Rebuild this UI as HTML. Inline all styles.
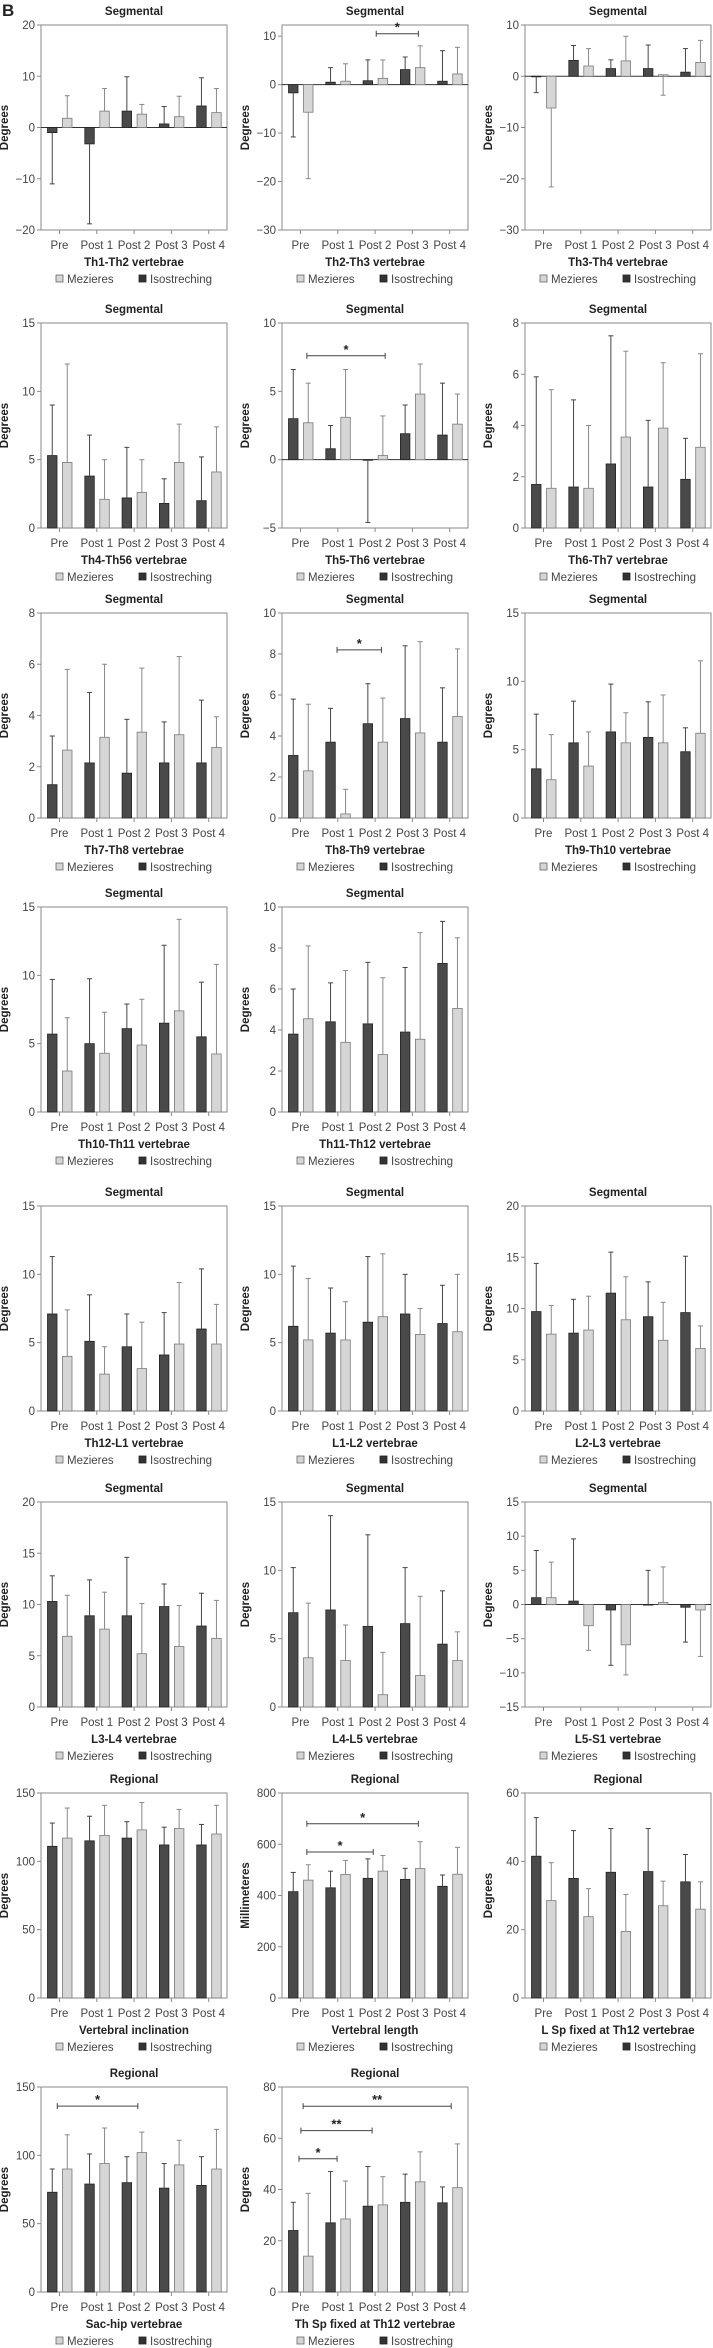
<!DOCTYPE html>
<html><head><meta charset="utf-8">
<style>
html,body{margin:0;padding:0;background:#fff;}
svg{display:block;font-family:"Liberation Sans",sans-serif;}
</style></head>
<body>
<svg id="fig" width="713" height="2348" viewBox="0 0 713 2348" xmlns="http://www.w3.org/2000/svg">
<text x="2" y="16" font-size="17" font-weight="bold" fill="#222">B</text>
</svg>
<script>
const categories = ["Pre","Post 1","Post 2","Post 3","Post 4"];
const titles = ["Segmental","Segmental","Segmental","Segmental","Segmental","Segmental","Segmental","Segmental","Segmental","Segmental","Segmental","Segmental","Segmental","Segmental","Segmental","Segmental","Segmental","Regional","Regional","Regional","Regional","Regional"];
const xLabels = ["Th1-Th2 vertebrae","Th2-Th3 vertebrae","Th3-Th4 vertebrae","Th4-Th56 vertebrae","Th5-Th6 vertebrae","Th6-Th7 vertebrae","Th7-Th8 vertebrae","Th8-Th9 vertebrae","Th9-Th10 vertebrae","Th10-Th11 vertebrae","Th11-Th12 vertebrae","Th12-L1 vertebrae","L1-L2 vertebrae","L2-L3 vertebrae","L3-L4 vertebrae","L4-L5 vertebrae","L5-S1 vertebrae","Vertebral inclination","Vertebral length","L Sp fixed at Th12 vertebrae","Sac-hip vertebrae","Th Sp fixed at Th12 vertebrae"];
const yLabels = ["Degrees","Degrees","Degrees","Degrees","Degrees","Degrees","Degrees","Degrees","Degrees","Degrees","Degrees","Degrees","Degrees","Degrees","Degrees","Degrees","Degrees","Degrees","Millimeteres","Degrees","Degrees","Degrees"];
const yMin = [-20,-30,-30,0,-5,0,0,0,0,0,0,0,0,0,0,0,-15,0,0,0,0,0];
const yMax = [20,12.3,10,15,10,8,8,10,15,15,10,15,15,20,20,15,15,150,800,60,150,80];
const yStep = [10,10,10,5,5,2,2,2,5,5,2,5,5,5,5,5,5,50,200,20,50,20];
const isoMeans = [
[-1,-3.2,3.2,0.7,4.2],[-1.7,0.5,0.8,3.1,0.7],[-0.1,3.1,1.5,1.5,0.8],
[5.3,3.8,2.2,1.8,2.0],[3.0,0.8,0,1.9,1.8],[1.7,1.6,2.5,1.6,1.9],
[1.3,2.15,1.75,2.15,2.15],[3.05,3.7,4.6,4.85,3.7],[3.6,5.5,6.3,5.9,4.85],
[5.7,5.0,6.1,6.5,5.5],[3.8,4.4,4.3,3.9,7.25],
[7.1,5.1,4.7,4.1,6.0],[6.2,5.7,6.5,7.1,6.4],[9.7,7.6,11.5,9.2,9.6],
[10.3,8.9,8.9,9.8,7.9],[6.9,7.1,5.9,6.1,4.6],[1.0,0.5,-0.8,0,-0.4],
[111,115,117,112,112],[415,430,467,463,436],[41.5,35,36.8,37,34],
[73,79,80,76,78],[24,27,33.5,35,34.8]];
const isoErrEnds = [
[-11,-18.8,9.9,4.1,9.7],[-10.8,3.5,5.1,5.7,7.0],[-3.2,6.0,3.2,6.1,5.4],
[9.0,6.8,5.9,3.6,5.2],[6.6,2.5,-4.6,4.0,5.6],[5.9,5.0,7.5,4.2,3.5],
[3.2,4.9,3.85,3.75,4.6],[5.8,5.35,6.55,8.4,6.35],[7.6,8.55,9.8,8.5,6.6],
[9.7,9.75,7.9,12.2,9.5],[6.0,6.3,7.3,7.05,9.3],
[11.3,8.5,7.1,7.2,10.4],[10.6,9.0,11.3,10.0,9.2],[14.4,10.9,15.5,12.6,15.1],
[12.8,12.4,14.6,12.0,11.1],[10.2,14.0,12.6,10.2,8.5],[7.9,9.6,-8.9,5.0,-5.5],
[128,133,129,125,127],[490,495,543,506,480],[52.8,49,49.6,49.6,42],
[90,101,99,94,99],[35,47,49,46,41]];
const mezMeans = [
[1.8,3.2,2.6,2.1,2.9],[-5.7,0.7,1.3,3.5,2.2],[-6.2,2.0,3.0,0.3,2.7],
[4.8,2.1,2.6,4.8,4.1],[2.7,3.1,0.3,4.8,2.6],[1.55,1.55,3.55,3.9,3.15],
[2.65,3.15,3.35,3.25,2.75],[2.3,0.2,3.7,4.15,4.95],[2.8,3.8,5.5,5.5,6.2],
[3.0,4.3,4.9,7.4,4.25],[4.55,3.4,2.8,3.55,5.05],
[4.0,2.7,3.1,4.9,4.9],[5.2,5.2,6.9,5.6,5.8],[7.5,7.9,8.9,6.9,6.1],
[6.9,7.6,5.2,5.9,6.7],[3.6,3.4,0.9,2.3,3.4],[1.0,-3.1,-5.9,0.3,-0.8],
[117,119,123,124,120],[460,482,495,505,483],[28.5,23.8,19.5,27,26],
[90,94,102,93,90],[14,28.5,34,43,40.7]];
const mezErrEnds = [
[6.2,7.6,4.5,6.1,7.6],[-19.4,4.3,5.1,8.0,7.7],[-21.6,5.4,7.8,-3.7,7.0],
[12.0,5.0,5.0,7.6,7.4],[5.6,6.6,3.2,7.0,4.8],[5.4,4.0,6.9,6.45,6.8],
[5.8,6.0,5.85,6.3,3.95],[5.55,1.4,5.85,8.6,8.25],[6.1,6.3,7.7,9.0,11.5],
[6.9,7.3,8.25,14.1,10.8],[8.1,6.9,6.55,8.75,8.5],
[7.4,4.7,6.5,9.4,7.8],[9.7,8.0,11.5,7.5,10.0],[10.3,11.2,13.1,10.6,8.3],
[10.9,11.2,10.1,9.9,10.4],[7.6,6.0,4.0,8.1,5.5],[6.2,-6.7,-10.3,5.5,-7.6],
[139,141,143,138,141],[520,537,556,610,588],[39.6,32,30.3,34.2,34],
[115,120,117,111,119],[38.5,43.3,45,54.7,57.8]];
// significance brackets: [chartIndex, fromCategoryPos, toCategoryPos, yValue, label]
const brackets = [
[1,2.03,3.16,10.5,"*"],
[4,0.17,2.27,7.6,"*"],
[7,0.98,2.17,8.2,"*"],
[18,0.17,3.16,680,"*"],
[18,0.17,1.95,570,"*"],
[20,-0.06,2.1,136,"*"],
[21,-0.04,0.98,52,"*"],
[21,0.01,1.92,63,"**"],
[21,0.07,4.04,72.5,"**"]];
const rowTops = [25,323,613,907,1206,1502,1793,2087];
const colLefts = [41,282,525];
const chartCells = [[0,0],[0,1],[0,2],[1,0],[1,1],[1,2],[2,0],[2,1],[2,2],[3,0],[3,1],[4,0],[4,1],[4,2],[5,0],[5,1],[5,2],[6,0],[6,1],[6,2],[7,0],[7,1]];

const NS = "http://www.w3.org/2000/svg";
const svg = document.getElementById("fig");
const PW = 186, PH = 205;
function mk(tag, attrs, parent){
  const e = document.createElementNS(NS, tag);
  for (const k in attrs) e.setAttribute(k, attrs[k]);
  parent.appendChild(e);
  return e;
}
function txt(parent, x, y, s, size, anchor, weight, fill){
  const t = mk("text", {x:x, y:y, "font-size":size, "text-anchor":anchor, "font-weight":weight, fill:fill}, parent);
  t.textContent = s;
  return t;
}

for (let c = 0; c < titles.length; c++){
  const L = colLefts[chartCells[c][1]], T = rowTops[chartCells[c][0]];
  const B = T + PH, R = L + PW;
  const lo = yMin[c], hi = yMax[c];
  const yS = v => B - (v - lo) / (hi - lo) * PH;
  const xCat = p => L + 18.5 + 37.3 * p;
  const g = mk("g", {}, svg);
  
  

  const title = txt(g, L + PW/2, T - 10, titles[c], 11.5, "middle", "bold", "#222");
  
  

  // frame
  const frame = mk("rect", {x:L, y:T, width:PW, height:PH, fill:"none", stroke:"#8a8a8a", "stroke-width":1}, g);
  
  

  // y ticks
  for (let v = lo; v <= hi + 1e-9; v += yStep[c]){
    const y = yS(v);
    mk("line", {x1:L-4, x2:L, y1:y, y2:y, stroke:"#8a8a8a"}, g);
    const lbl = v < 0 ? "\u2212" + Math.abs(v) : String(v);
    const tk = txt(g, L - 6, y + 4, lbl, 11.5, "end", "normal", "#444");
    
    
  }
  // zero line
  if (lo < 0){
    const zl = mk("line", {x1:L, x2:R, y1:yS(0), y2:yS(0), stroke:"#333", "stroke-width":1}, g);
    
    
  }
  // y label
  const yl = txt(g, 0, 0, yLabels[c], 11.5, "middle", "bold", "#222");
  yl.setAttribute("transform", "translate(" + (L - 33) + "," + (T + PH/2) + ") rotate(-90)");
  
  

  // x ticks and labels
  categories.forEach((cat, i) => {
    const x = xCat(i);
    mk("line", {x1:x, x2:x, y1:B, y2:B+4, stroke:"#8a8a8a"}, g);
    const xt = txt(g, x, B + 19, cat, 11.5, "middle", "normal", "#444");
    
    
  });
  const xl = txt(g, L + PW/2, B + 36, xLabels[c], 11.5, "middle", "bold", "#222");
  
  

  // bars
  const series = [
    {means: isoMeans[c], ends: isoErrEnds[c], off: -12, fill:"#4a4a4a", stroke:"#222", err:"#444", name:"isostreching"},
    {means: mezMeans[c], ends: mezErrEnds[c], off: 3, fill:"#d6d6d6", stroke:"#7a7a7a", err:"#888", name:"mezieres"}];
  series.forEach(s => {
    s.means.forEach((m, i) => {
      const x = xCat(i) + s.off, w = 9.5;
      const y0 = yS(Math.max(lo, 0)), y1 = yS(m);
      const bar = mk("rect", {x:x, y:Math.min(y0,y1), width:w, height:Math.max(Math.abs(y1-y0),0.6), fill:s.fill, stroke:s.stroke, "stroke-width":0.8}, g);
      
      
      const cx = x + w/2, ye = yS(s.ends[i]);
      const eb = mk("line", {x1:cx, x2:cx, y1:y1, y2:ye, stroke:s.err, "stroke-width":1}, g);
      
      
      mk("line", {x1:cx-2.5, x2:cx+2.5, y1:ye, y2:ye, stroke:s.err, "stroke-width":1}, g);
    });
  });

  // legend
  const LG = B + 53;
  const lg = mk("g", {}, g);
  
  
  mk("rect", {x:L+15, y:LG-8, width:7, height:7, fill:"#d6d6d6", stroke:"#666", "stroke-width":0.8}, lg);
  const l1 = txt(lg, L+26, LG, "Mezieres", 11.5, "start", "normal", "#444");
  
  
  mk("rect", {x:L+98, y:LG-8, width:7, height:7, fill:"#333", stroke:"#222", "stroke-width":0.8}, lg);
  const l2 = txt(lg, L+109, LG, "Isostreching", 11.5, "start", "normal", "#444");
  
  

  // brackets
  brackets.filter(b => b[0] === c).forEach(b => {
    const x1 = xCat(b[1]), x2 = xCat(b[2]), y = yS(b[3]);
    const br = mk("g", {}, g);
    
    
    mk("line", {x1:x1, x2:x2, y1:y, y2:y, stroke:"#444"}, br);
    mk("line", {x1:x1, x2:x1, y1:y-3, y2:y+3, stroke:"#444"}, br);
    mk("line", {x1:x2, x2:x2, y1:y-3, y2:y+3, stroke:"#444"}, br);
    txt(br, (x1+x2)/2, y - 2, b[4], 13, "middle", "bold", "#222");
  });
}
</script>
</body></html>
